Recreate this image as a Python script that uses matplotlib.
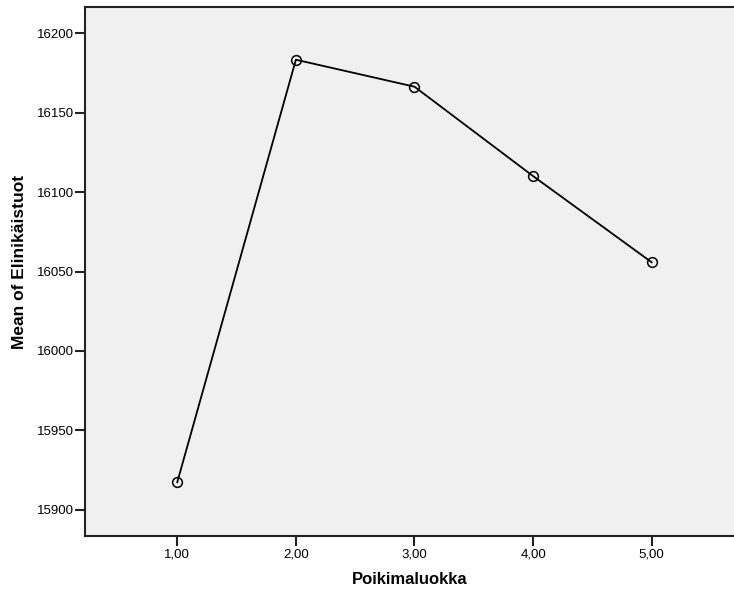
import matplotlib
matplotlib.use("Agg")
import matplotlib.pyplot as plt

# values
classes = [1, 2, 3, 4, 5]
class_labels = ["1,00", "2,00", "3,00", "4,00", "5,00"]
means = [15917.3, 16183.4, 16166.4, 16110.1, 16055.8]
y_ticks = [15900, 15950, 16000, 16050, 16100, 16150, 16200]

plt.rcParams["font.family"] = ["Liberation Sans", "DejaVu Sans"]

W, H = 734, 591
fig = plt.figure(figsize=(W / 100, H / 100), dpi=100)
ax = fig.add_axes([85 / W, 1 - 536 / H, 1 - 85 / W, (536 - 7) / H])
ax.set_facecolor("#f0f0f0")

ax.plot(classes, means, color="black", linewidth=1.3, marker="o",
        markersize=7, markerfacecolor="none", markeredgecolor="black",
        markeredgewidth=1.1)

ax.set_xlim(0.222, 5.694)
ax.set_ylim(15883.4, 16216.6)
ax.set_xticks(classes)
ax.set_xticklabels(class_labels)
ax.set_yticks(y_ticks)
ax.set_yticklabels([str(v) for v in y_ticks])

ax.tick_params(axis="both", direction="out", length=7, width=1.5,
               labelsize=9.5, color="#222222")
ax.tick_params(axis="y", pad=1)
ax.tick_params(axis="x", pad=2)
for side in ["left", "bottom", "top"]:
    ax.spines[side].set_linewidth(1.5)
    ax.spines[side].set_color("#222222")
ax.spines["right"].set_visible(False)

fig.text(410 / W, 1 - 580 / H, "Poikimaluokka", fontsize=12,
         fontweight="bold", ha="center", va="center")
fig.text(20 / W, 1 - 262 / H, "Mean of Elinikäistuot", fontsize=12.5,
         fontweight="bold", ha="center", va="center", rotation=90)

fig.savefig("out.png", dpi=100)
